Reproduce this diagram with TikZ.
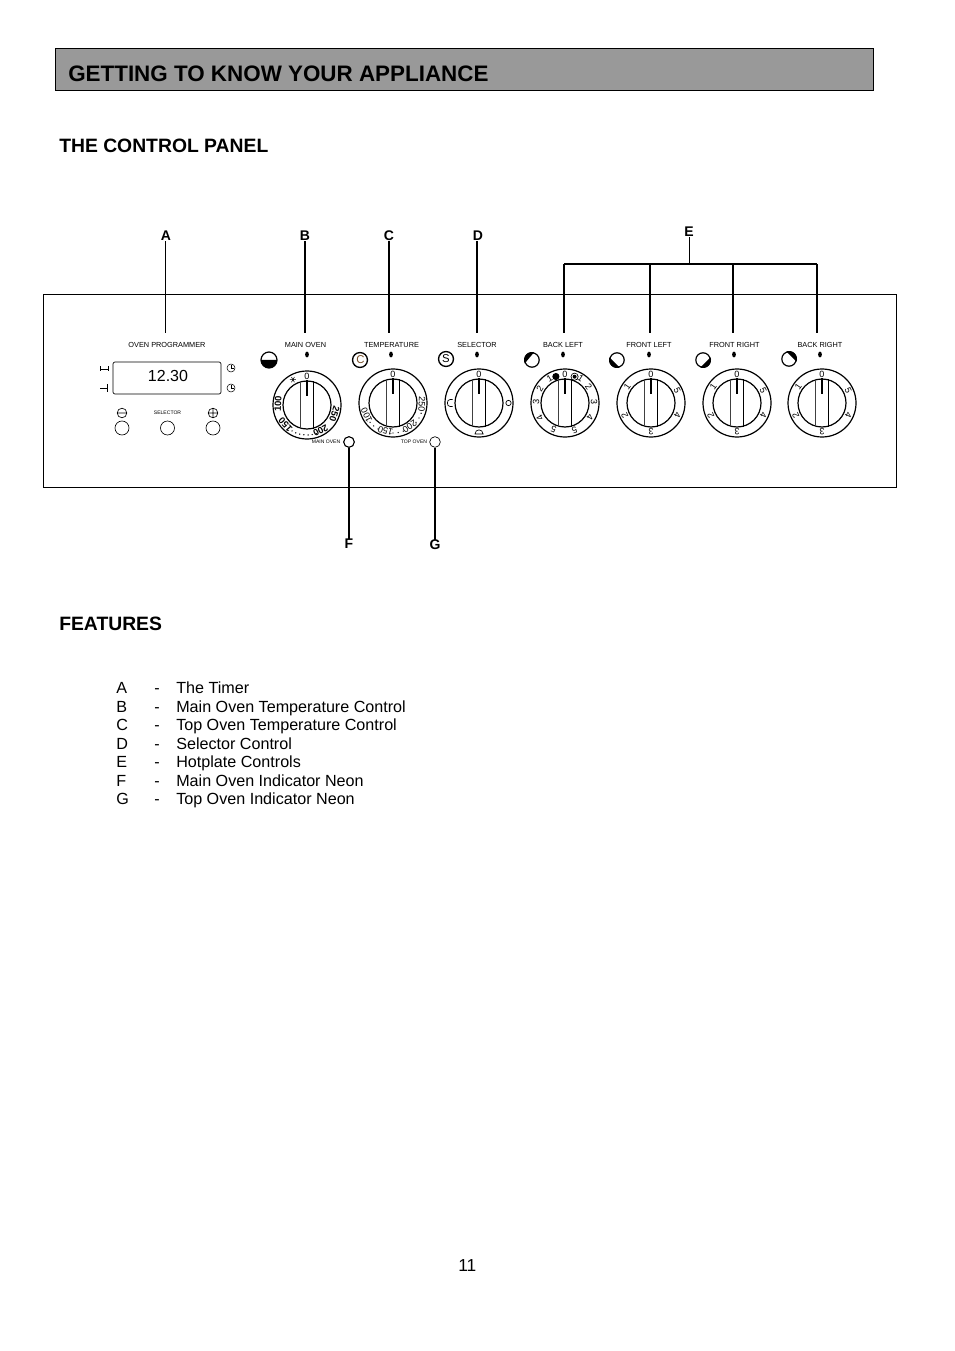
\documentclass[tikz,border=0pt]{standalone}
\usepackage{fontspec}
\setmainfont{Liberation Sans}
\definecolor{titlegray}{HTML}{999999}
\tikzset{
  x=0.75pt,y=-0.75pt,
  panelline/.style={draw=black,line width=0.75pt},
  leader/.style={draw=black,line width=0.9pt},
  callout/.style={font=\fontsize{10.5}{12}\selectfont\bfseries,inner sep=0pt},
  heading/.style={font=\fontsize{14.5}{18}\selectfont\bfseries,anchor=base west,inner sep=0pt},
  titletext/.style={font=\fontsize{16.8}{21}\selectfont\bfseries,anchor=base west,inner sep=0pt},
  bodytext/.style={font=\fontsize{12.1}{14}\selectfont,anchor=base west,inner sep=0pt},
  tinycap/.style={font=\fontsize{5.5}{6}\selectfont,inner sep=0pt},
  microcap/.style={font=\fontsize{3.8}{4}\selectfont,inner sep=0pt},
  dialnum/.style={font=\fontsize{6.8}{8}\selectfont,inner sep=0pt},
  dialbold/.style={font=\fontsize{7}{8}\selectfont\bfseries,inner sep=0pt},
  round button/.style={draw=black,line width=0.5pt,circle,minimum size=10.5pt,inner sep=0pt},
}
% dial: #1 name, #2 x, #3 y
\newcommand{\dialbase}[3]{%
  \coordinate (#1) at (#2,#3);
  \begin{scope}[shift={(#2,#3)}]
    \draw[line width=0.9pt] (0,0) circle[radius=25.5pt];
    \draw[line width=0.9pt] (0,0) circle[radius=18pt];
    \draw[line width=0.6pt,black!75] (-6.5,-23.6) -- (-6.5,23.6);
    \draw[line width=0.6pt] (6.5,-23.6) -- (6.5,23.6);
    \draw[line width=1pt] (0,-25) -- (0,-9);
  \end{scope}}
\newcommand{\dialtext}[5]{% style,x,y, list angle/text, radius
  \begin{scope}[shift={(#2,#3)}]
    \foreach \a/\t in {#4} {
      \pgfmathsetmacro{\rr}{\a-90}
      \node[#1,rotate=\rr] at (-\a:#5) {\t};
    }
  \end{scope}}
\newcommand{\blobicon}[3]{% x y facing-angle(visual)
  \begin{scope}[shift={(#1,#2)}]
    \draw[line width=0.9pt] (0,0) circle[radius=5.4pt];
    \pgfmathsetmacro{\lo}{#3-65}\pgfmathsetmacro{\hi}{#3+65}
    \fill[black] plot[domain=\lo:\hi,samples=15] (-\x:8) -- cycle;
  \end{scope}}
\begin{document}
\begin{tikzpicture}
\useasboundingbox (0,0) rectangle (954,1351);
% title
\fill[titlegray] (55,49) rectangle (873.5,91);
\draw[panelline] (55,49) rectangle (873.5,91);
\node[titletext] (title) at (68,81.5) {GETTING TO KNOW YOUR APPLIANCE};
\node[heading] (h1) at (59,153) {THE CONTROL PANEL};
\node[heading] (h2) at (59,630) {FEATURES};
% panel
\draw[panelline] (43,295) rectangle (896,487);
% callouts
\foreach \n/\x/\y/\t in {lA/166/236/A,lB/305/236/B,lC/389/236/C,lD/478/236/D,lE/689/232/E,lF/349/544/F,lG/435/545/G}
  \node[callout] (\n) at (\x,\y) {\t};
\coordinate (pA) at (165.5,333);
\coordinate (pB) at (305,333);
\coordinate (pC) at (389,333);
\coordinate (pD) at (477,333);
\coordinate (tE) at (689.5,264);
\coordinate (e1) at (564,264);\coordinate (e2) at (650,264);\coordinate (e3) at (733,264);\coordinate (e4) at (817,264);
\coordinate (f1) at (564,333);\coordinate (f2) at (650,333);\coordinate (f3) at (733,333);\coordinate (f4) at (817,333);
\draw[leader] (lA.south -| pA) -- (pA);
\draw[leader] (lB.south -| pB) -- (pB);
\draw[leader] (lC.south -| pC) -- (pC);
\draw[leader] (lD.south -| pD) -- (pD);
\draw[leader] (lE.south -| tE) -- (tE);
\draw[leader] (e1) -- (e4);
\draw[leader] (e1) -- (f1);
\draw[leader] (e2) -- (f2);
\draw[leader] (e3) -- (f3);
\draw[leader] (e4) -- (f4);
% programmer
\node[tinycap] (cp) at (167,345) {OVEN PROGRAMMER};
\draw[line width=0.5pt,rounded corners=1.5pt] (113,362) rectangle (221,394);
\node[font=\fontsize{12}{14}\selectfont,inner sep=0pt] (clock) at (168,376) {12.30};
\draw[line width=0.5pt] (100,366.5) -- (100,371.5) (100,369) -- (108,369) (108,366.5) -- (108,371.5);
\draw[line width=0.7pt] (100,388) -- (107,388) (107,384.5) -- (107,391.5);
\foreach \yy in {368,388}{
  \draw[line width=0.4pt] (231,\yy) circle[radius=3pt];
  \draw[line width=0.4pt] (231,\yy-3) -- (231,\yy) -- (233.5,\yy);
}
\node[round button] (b1) at (122,428) {};
\node[round button] (b2) at (167.5,428) {};
\node[round button] (b3) at (213,428) {};
\draw[line width=0.5pt] (122,413) circle[radius=3.6pt] (117.5,413) -- (126.5,413);
\draw[line width=0.5pt] (213,413) circle[radius=3.6pt] (208.5,413) -- (217.5,413) (213,408.5) -- (213,417.5);
\node[microcap] (sel) at (167.5,413) {SELECTOR};
% captions
\node[tinycap] (c1) at (305.5,345) {MAIN OVEN};
\node[tinycap] (c2) at (391.5,345) {TEMPERATURE};
\node[tinycap] (c3) at (477,345) {SELECTOR};
\node[tinycap] (c4) at (563,345) {BACK LEFT};
\node[tinycap] (c5) at (649,345) {FRONT LEFT};
\node[tinycap] (c6) at (734.5,345) {FRONT RIGHT};
\node[tinycap] (c7) at (820,345) {BACK RIGHT};
\foreach \x in {307,391,477,563,649,734,820}
  \fill (\x,354.5) ellipse[x radius=1.4pt,y radius=2.2pt];
% icons
\begin{scope}[shift={(269,360)}]
  \draw[line width=0.9pt] (0,0) circle[radius=6pt];
  \fill plot[domain=0:180,samples=15] (\x:8) -- cycle;
\end{scope}
\draw[line width=1pt] (360,360) circle[radius=5.6pt];
\node[font=\fontsize{8.5}{9}\selectfont,text=brown!60!black,inner sep=0pt] (ic) at (360.5,360) {C};
\draw[line width=1pt] (446,359) circle[radius=5.6pt];
\node[font=\fontsize{8.5}{9}\selectfont,inner sep=0pt] (is) at (446,359) {S};
\blobicon{532}{360}{140}
\blobicon{617}{360}{225}
\blobicon{703}{360}{-45}
\blobicon{789}{359}{45}
% dials
\dialbase{d1}{307}{405}
\dialbase{d2}{393}{403}
\dialbase{d3}{479}{403}
\dialbase{d4}{565}{403}
\dialbase{d5}{651}{403}
\dialbase{d6}{737}{403}
\dialbase{d7}{822}{403}
% dial 1
\dialtext{dialbold}{307}{405}{178/100,222/150,-62/200,-18/250}{29}
\dialtext{dialnum}{307}{405}{90/0}{29}
\begin{scope}[shift={(307,405)}]
  \foreach \a in {240,248,256,264,272,280,288}
    \fill (-\a:30) circle[radius=0.55pt];
  \draw[line width=0.4pt,shift={(-119:29)}] (-3,0) -- (3,0) (-1.5,-2.6) -- (1.5,2.6) (1.5,-2.6) -- (-1.5,2.6);
\end{scope}
% dial 2
\dialtext{dialnum}{393}{403}{90/0,-3/250,-55/200,-105/150,-155/100}{29}
\begin{scope}[shift={(393,403)}]
  \foreach \a in {-20,-30,-40,-70,-80,-90,-120,-130,-140}
    \fill (-\a:30) circle[radius=0.55pt];
\end{scope}
% dial 3
\begin{scope}[shift={(479,403)}]
  \node[dialnum] (s0) at (0,-29) {0};
  \draw[line width=0.5pt] (-26.5,-3.5) -- (-29,-3.5) .. controls (-32.5,-3.5) and (-32.5,3.5) .. (-29,3.5) -- (-26.5,3.5);
  \draw[line width=0.5pt] (-4.5,31) -- (4.5,31) (-4,31) .. controls (-4,25.5) and (4,25.5) .. (4,31);
  \draw[line width=0.5pt] (29.5,0) circle[radius=2pt];
\end{scope}
% dial 4
\dialtext{dialnum}{565}{403}{90/0,122/1,57/1,150/2,178/3,210/4,247/5,35/2,2/3,-30/4,-71/5}{29}
\begin{scope}[shift={(565,403)}]
  \fill (-109:28) circle[radius=2.7pt];
  \draw[line width=0.5pt] (-70:28) circle[radius=2.7pt];
  \fill (-70:28) circle[radius=1.5pt];
\end{scope}
% dials 5-7
\foreach \x in {651,737,822}
  \dialtext{dialnum}{\x}{403}{90/0,145/1,205/2,270/3,-25/4,25/5}{29}
% neons
\node[round button,minimum size=8pt] (nF) at (349,442) {};
\node[round button,minimum size=8pt] (nG) at (435,442) {};
\node[microcap] (mo) at (326,442) {MAIN OVEN};
\node[microcap] (to) at (414,442) {TOP OVEN};
\draw[leader] (nF) -- (lF);
\draw[leader] (nG) -- (lG);
% features
\foreach \l/\t/\y in {A/The Timer/693,B/Main Oven Temperature Control/712,C/Top Oven Temperature Control/730,D/Selector Control/749,E/Hotplate Controls/767,F/Main Oven Indicator Neon/786,G/Top Oven Indicator Neon/804}{
  \node[bodytext] at (116,\y) {\l};
  \node[bodytext] at (154,\y) {-};
  \node[bodytext] at (176,\y) {\t};
}
\node[font=\fontsize{13}{14}\selectfont,anchor=base west,inner sep=0pt] (pg) at (458,1271) {11};
\end{tikzpicture}
\end{document}
